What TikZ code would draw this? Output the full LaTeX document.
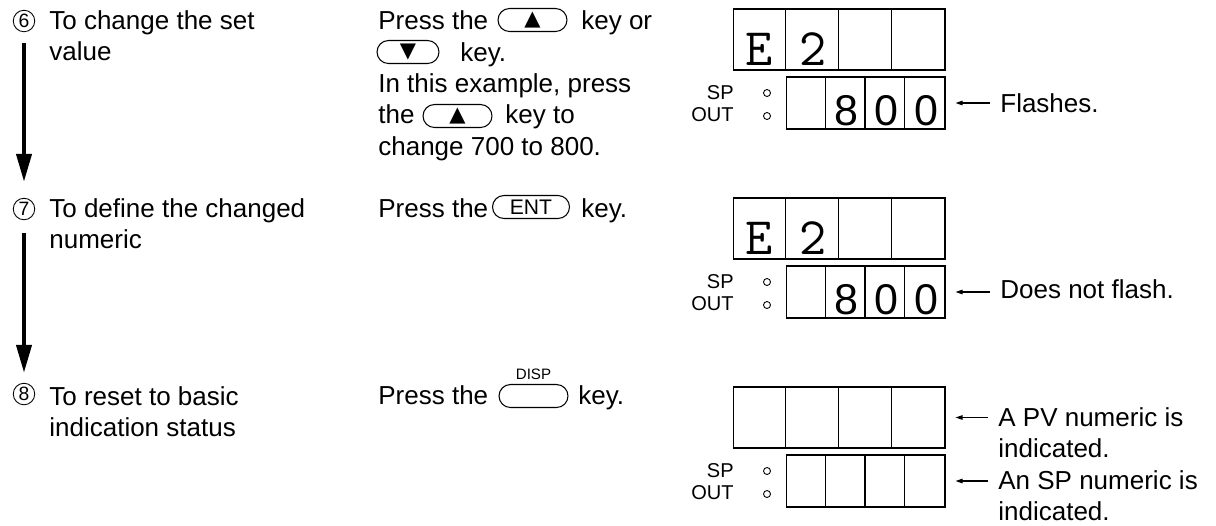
\documentclass[tikz,border=0pt]{standalone}
\usepackage{fontspec}
\setmainfont{Liberation Sans}
\newfontfamily\symfont{DejaVu Sans}
\usetikzlibrary{arrows.meta, positioning}

\begin{document}
\begin{tikzpicture}[x=0.02cm, y=-0.02cm,
    txt/.style={anchor=base west, inner sep=0pt, align=left, font=\fontsize{14.8}{17.6}\selectfont},
    small/.style={inner sep=0pt, font=\fontsize{11.4}{12}\selectfont},
    num/.style={draw, circle, line width=0.5pt, minimum size=0.43cm, inner sep=0pt, font=\fontsize{11}{11}\selectfont},
    keycap/.style={draw, line width=0.6pt, rounded corners=0.23cm, minimum width=#1, minimum height=0.46cm, inner sep=0pt, font=\fontsize{12}{12}\selectfont},
    keycap/.default=1.38cm,
    pvbox/.style={draw, line width=0.6pt, minimum width=4.24cm, minimum height=1.22cm, inner sep=0pt},
    spbox/.style={draw, line width=0.6pt, minimum width=3.18cm, minimum height=1.04cm, inner sep=0pt},
    lamp/.style={draw, circle, line width=0.5pt, minimum size=0.14cm, inner sep=0pt},
    lcd/.style={anchor=base, inner sep=0pt, font=\ttfamily\fontsize{30}{30}\selectfont},
    dig/.style={anchor=base, inner sep=0pt, font=\fontsize{24.5}{24.5}\selectfont},
    flow/.style={line width=2.3pt, -{Triangle[length=0.56cm, width=0.3cm]}},
    pointer/.style={line width=0.6pt, -{Triangle[length=0.14cm, width=0.09cm]}, shorten <=0.2cm, shorten >=0.2cm},
]
\useasboundingbox (0,0) rectangle (1216,525);

% steps
\node[num] (n6) at (24,21) {6};
\node[txt] (t6) at (49,60) {To change the set\\value};
\node[num] (n7) at (24,209) {7};
\node[txt] (t7) at (49,248) {To define the changed\\numeric};
\node[num] (n8) at (24,394) {8};
\node[txt] (t8) at (49,436) {To reset to basic\\indication status};
\draw[flow, shorten <=0.22cm, shorten >=0.32cm] (n6) -- (n7);
\draw[flow, shorten <=0.26cm, shorten >=0.2cm] (n7) -- (n8);

% key operations
\node[txt] (p6a) at (378,29) {Press the};
\node[keycap] (k6a) at (532.5,20) {\symfont ▲};
\node[txt] (p6b) at (581,29) {key or};
\node[keycap=1.24cm] (k6b) at (408,52) {\symfont ▼};
\node[txt] (p6c) at (460,61) {key.};
\node[txt] (p6d) at (378,92) {In this example, press};
\node[txt] (p6e) at (378,123.5) {the};
\node[keycap] (k6c) at (457.5,116) {\symfont ▲};
\node[txt] (p6f) at (505,123.5) {key to};
\node[txt] (p6g) at (378,155) {change 700 to 800.};

\node[txt] (p7a) at (378,217) {Press the};
\node[keycap=1.54cm] (k7) at (531,207) {ENT};
\node[txt] (p7b) at (581,217) {key.};

\node[txt] (p8a) at (378,404) {Press the};
\node[keycap] (k8) at (533.5,396) {};
\node[inner sep=0pt, font=\fontsize{8.6}{9}\selectfont, above=0.08cm of k8] (k8l) {DISP};
\node[txt] (p8b) at (578,404) {key.};

% displays
\foreach \n/\t in {a/9, b/198, c/387} {
  \node[pvbox] (pv\n) at (839,\t+30.5) {};
  \node[spbox] (sp\n) at (865.5,\t+94) {};
  \foreach \i/\w in {1/0.6pt, 2/0.6pt, 3/1.1pt}
    \draw[line width=\w] ([xshift=\i*1.06cm]pv\n.north west) -- ([xshift=\i*1.06cm]pv\n.south west);
  \foreach \i in {1,2,3}
    \draw[line width=0.6pt] ([xshift=\i*0.795cm]sp\n.north west) -- ([xshift=\i*0.795cm]sp\n.south west);
  \node[small, anchor=east] (sptxt\n) at (734,\t+84) {SP};
  \node[small, anchor=east] (outtxt\n) at (734,\t+106) {OUT};
  \node[lamp] (lsp\n) at (767,\t+84) {};
  \node[lamp] (lout\n) at (767,\t+107) {};
}
\node[lcd] (ea) at (759.5,65) {E};
\node[lcd] (twoa) at (813,65) {2};
\node[dig] (d1a) at (846.5,125) {8};
\node[dig] (d2a) at (886,125) {0};
\node[dig] (d3a) at (926,125) {0};
\node[lcd] (eb) at (759.5,254) {E};
\node[lcd] (twob) at (813,254) {2};
\node[dig] (d1b) at (846.5,314) {8};
\node[dig] (d2b) at (886,314) {0};
\node[dig] (d3b) at (926,314) {0};

% notes
\node[txt] (fl) at (1000,112) {Flashes.};
\draw[pointer] (fl.west |- spa.east) -- (spa.east);
\node[txt] (nf) at (1000,298) {Does not flash.};
\draw[pointer] (nf.west |- spb.east) -- (spb.east);
\node[txt] (pvn) at (998,457) {A PV numeric is\\indicated.};
\draw[pointer] (pvn.west |- pvc.east) -- (pvc.east);
\node[txt] (spn) at (998,520) {An SP numeric is\\indicated.};
\draw[pointer] (spn.west |- spc.east) -- (spc.east);
\end{tikzpicture}
\end{document}
